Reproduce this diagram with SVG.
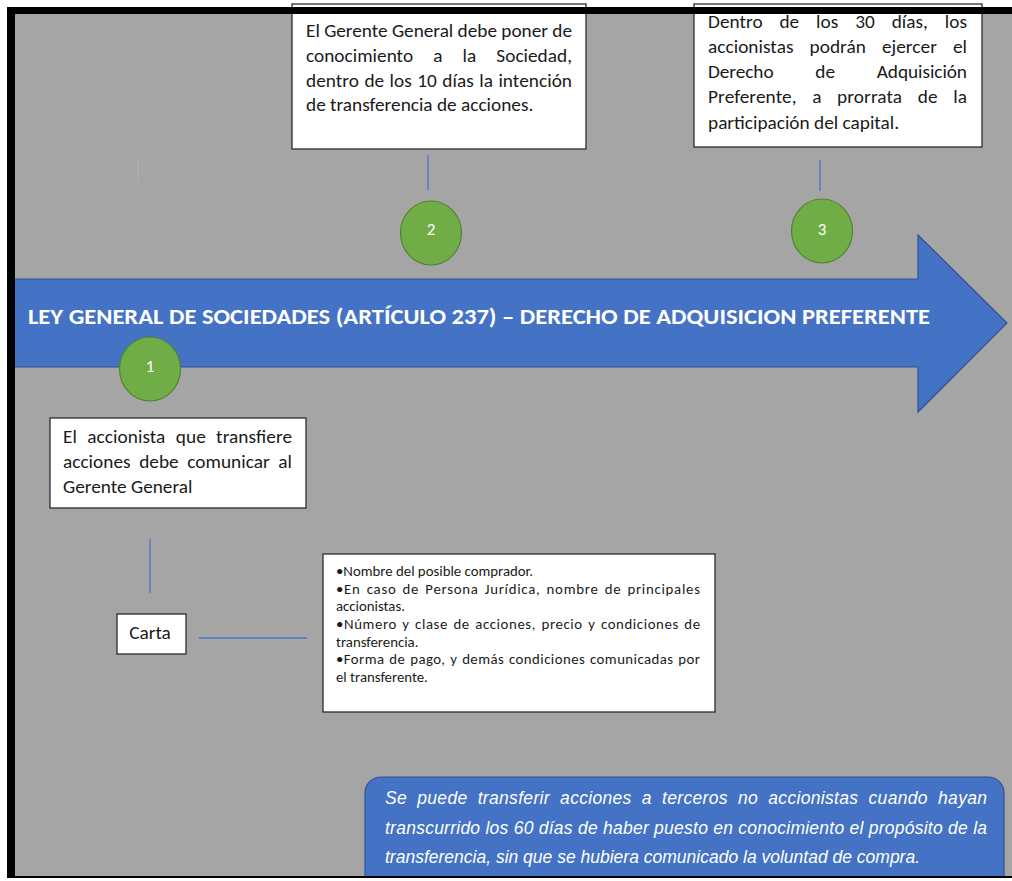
<svg xmlns="http://www.w3.org/2000/svg" width="1012" height="881" viewBox="0 0 1012 881">
<defs>
<style>
.bg{fill:#a5a5a5}
.box{fill:#ffffff;stroke:#2b2b2b;stroke-width:1.3}
.t{font-family:Carlito,Lato,"Liberation Sans",sans-serif;font-size:19.3px;fill:#1a1a1a}
.ts{font-family:Carlito,Lato,"Liberation Sans",sans-serif;font-size:14.8px;fill:#1a1a1a}
.conn{stroke:#4a76c6;stroke-width:1.3;fill:none}
.circ{fill:#70ad47;stroke:#548235;stroke-width:1.2}
.num{font-family:Carlito,Lato,"Liberation Sans",sans-serif;font-size:17px;fill:#ffffff;text-anchor:middle}
.blue{fill:#4472c4;stroke:#2f528f;stroke-width:1.2}
.title{font-family:Carlito,Lato,"Liberation Sans",sans-serif;font-weight:bold;font-size:22px;fill:#ffffff}
.it{font-family:"Liberation Sans",Arial,sans-serif;font-style:italic;font-size:17.5px;fill:#ffffff}
</style>
</defs>
<rect x="0" y="0" width="1012" height="881" fill="#ffffff"/>
<rect class="bg" x="7" y="7" width="1005" height="872"/>

<line x1="138" y1="160" x2="138" y2="182" stroke="#b3b3b3" stroke-width="1"/>

<g id="arrow">
<path class="blue" d="M10,279 L918,279 L918,235 L1007,323 L918,412 L918,367 L10,367 Z"/>
<text class="title" x="28" y="324" textLength="902" lengthAdjust="spacingAndGlyphs">LEY GENERAL DE SOCIEDADES (ARTÍCULO 237) – DERECHO DE ADQUISICION PREFERENTE</text>
</g>

<g id="connectors">
<line class="conn" x1="428" y1="155" x2="428" y2="190"/>
<line class="conn" x1="820" y1="160" x2="820" y2="191"/>
<line class="conn" x1="150" y1="539" x2="150" y2="593"/>
<line class="conn" x1="199" y1="638" x2="307" y2="638"/>
</g>

<g id="step2-box">
<rect class="box" x="292" y="4" width="294" height="145"/>
<text class="t" x="306" y="37" textLength="266" lengthAdjust="spacing">El Gerente General debe poner de</text>
<text class="t" x="306" y="62" textLength="266" lengthAdjust="spacing" word-spacing="15.7">conocimiento a la Sociedad,</text>
<text class="t" x="306" y="87" textLength="266" lengthAdjust="spacing" word-spacing="1">dentro de los 10 días la intención</text>
<text class="t" x="306" y="111">de transferencia de acciones.</text>
</g>

<g id="step3-box">
<rect class="box" x="694" y="4" width="288" height="143"/>
<text class="t" x="708" y="28" textLength="259" lengthAdjust="spacing" word-spacing="12.5">Dentro de los 30 días, los</text>
<text class="t" x="708" y="53" textLength="259" lengthAdjust="spacing" word-spacing="11.6">accionistas podrán ejercer el</text>
<text class="t" x="708" y="78" textLength="259" lengthAdjust="spacing" word-spacing="37.5">Derecho de Adquisición</text>
<text class="t" x="708" y="103" textLength="259" lengthAdjust="spacing" word-spacing="11.1">Preferente, a prorrata de la</text>
<text class="t" x="708" y="129">participación del capital.</text>
</g>

<g id="step2">
<ellipse class="circ" cx="431" cy="233" rx="30.5" ry="32"/>
<text class="num" x="431" y="235">2</text>
</g>
<g id="step3">
<ellipse class="circ" cx="822" cy="231" rx="30.5" ry="32"/>
<text class="num" x="822" y="235">3</text>
</g>
<g id="step1">
<ellipse class="circ" cx="150" cy="369" rx="30.5" ry="32"/>
<text class="num" x="150" y="372">1</text>
</g>

<g id="step1-box">
<rect class="box" x="50" y="418" width="256" height="90"/>
<text class="t" x="63" y="443" textLength="229" lengthAdjust="spacing" word-spacing="5.9">El accionista que transfiere</text>
<text class="t" x="63" y="468" textLength="229" lengthAdjust="spacing" word-spacing="4.2">acciones debe comunicar al</text>
<text class="t" x="63" y="493">Gerente General</text>
</g>

<g id="carta">
<rect class="box" x="117" y="614" width="69" height="40"/>
<text class="t" x="150" y="639" text-anchor="middle">Carta</text>
</g>

<g id="requisitos">
<rect class="box" x="323" y="554" width="392" height="158"/>
<text class="ts" x="336" y="576">•Nombre del posible comprador.</text>
<text class="ts" x="336" y="594" textLength="364" lengthAdjust="spacing" word-spacing="2">•En caso de Persona Jurídica, nombre de principales</text>
<text class="ts" x="336" y="611">accionistas.</text>
<text class="ts" x="336" y="629" textLength="364" lengthAdjust="spacing" word-spacing="1.5">•Número y clase de acciones, precio y condiciones de</text>
<text class="ts" x="336" y="647">transferencia.</text>
<text class="ts" x="336" y="664" textLength="364" lengthAdjust="spacing" word-spacing="1">•Forma de pago, y demás condiciones comunicadas por</text>
<text class="ts" x="336" y="682">el transferente.</text>
</g>

<g id="nota">
<rect class="blue" x="365" y="777" width="639" height="120" rx="16" ry="16"/>
<text class="it" x="385" y="804" textLength="602" lengthAdjust="spacing" word-spacing="5">Se puede transferir acciones a terceros no accionistas cuando hayan</text>
<text class="it" x="385" y="834" textLength="602" lengthAdjust="spacing">transcurrido los 60 días de haber puesto en conocimiento el propósito de la</text>
<text class="it" x="385" y="863">transferencia, sin que se hubiera comunicado la voluntad de compra.</text>
</g>

<g id="frame">
<rect x="7" y="7" width="1005" height="7" fill="#000000"/>
<rect x="7" y="7" width="8" height="874" fill="#000000"/>
<rect x="7" y="877" width="1005" height="4" fill="#ffffff"/>
<rect x="7" y="876" width="1005" height="2" fill="#000000"/>
</g>
</svg>
